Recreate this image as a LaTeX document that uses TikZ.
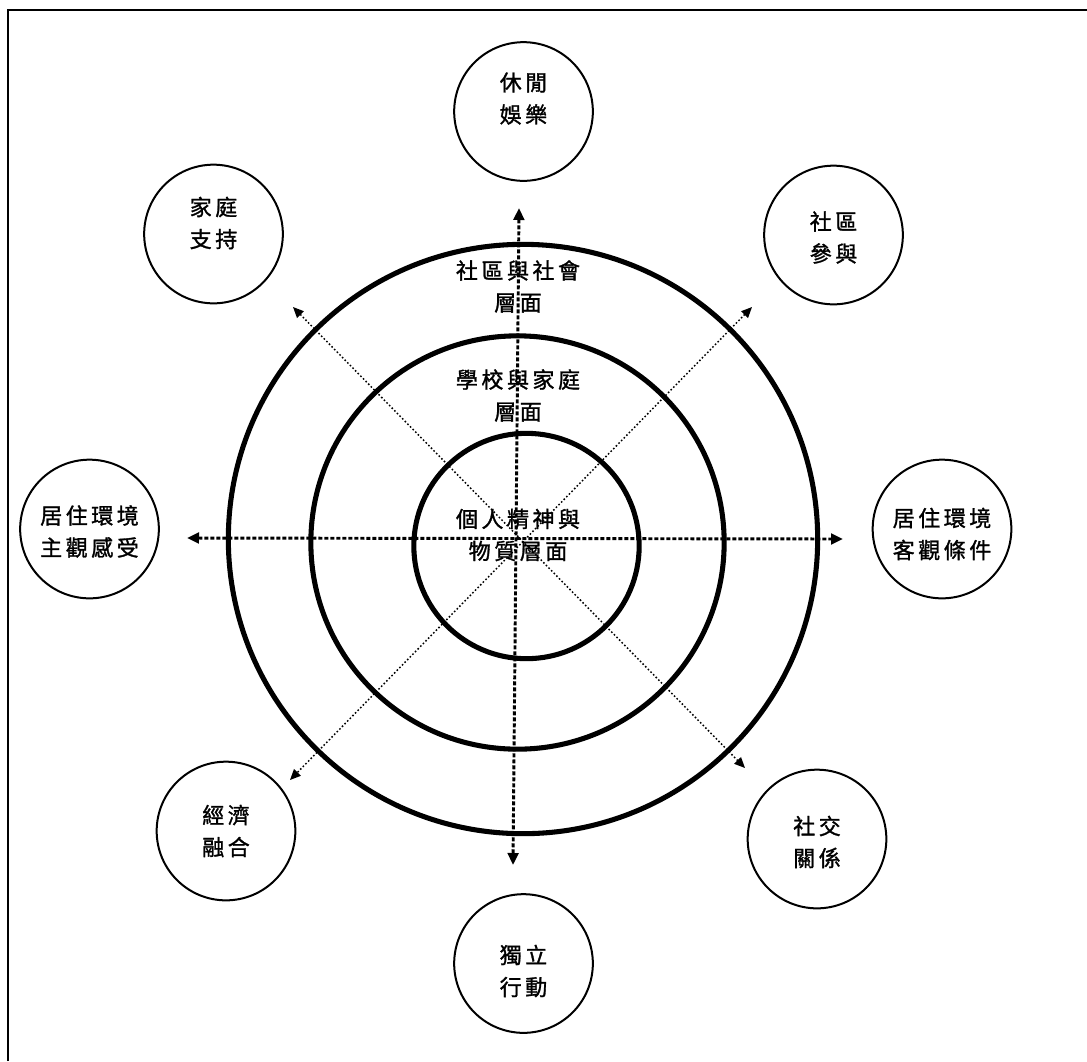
\documentclass[tikz,border=0pt]{standalone}
\usepackage{fontspec}
\newfontfamily\cjk[LetterSpace=16,FakeBold=1.3]{Noto Sans CJK TC}
\usetikzlibrary{arrows.meta}
\tikzset{bubble/.style={draw,circle,line width=1.5pt,minimum size=104pt,inner sep=0pt},
  ring/.style={draw,circle,line width=3.8pt,inner sep=0pt},
  txt/.style={align=center,font=\cjk\fontsize{16.5pt}{24pt}\selectfont,inner sep=0pt},
  axis/.style={{Triangle[length=9pt,width=8pt]}-{Triangle[length=9pt,width=8pt]},line width=2.2pt,dash pattern=on 3pt off 1.5pt},
  diag/.style={{Triangle[length=8pt,width=7pt]}-{Triangle[length=8pt,width=7pt]},line width=1.1pt,dash pattern=on 1.2pt off 1.6pt}}

\begin{document}
\begin{tikzpicture}[x=0.75pt,y=-0.75pt]
\useasboundingbox (0,0) rectangle (1087,1061);
% frame
\draw[line width=1.5pt] (8,1061)--(8,10)--(1087,10);
% rings
\node[ring,minimum size=442pt] (outer) at (523,539) {};
\node[ring,minimum size=310pt] (middle) at (517.5,542.5) {};
\node[ring,minimum size=169pt] (inner) at (526.5,546) {};
% axes
\coordinate (n) at (519,208); \coordinate (s) at (513,865);
\coordinate (w) at (187,538); \coordinate (e) at (843,539);
\coordinate (nw) at (293,307); \coordinate (se) at (745,768);
\coordinate (ne) at (752,307); \coordinate (sw) at (290,780);
\draw[axis] (n)--(s); \draw[axis] (w)--(e);
\draw[diag] (nw)--(se); \draw[diag] (ne)--(sw);
% ring labels
\node[txt] (lsoc) at (518,286.5) {社區與社會\\層面};
\node[txt] (lsch) at (518,395.5) {學校與家庭\\層面};
\node[txt] (lind) at (518,535) {個人精神與\\物質層面};
% domains
\node[bubble] (leisure) at (523.5,111.5) {};
\node[txt] at (523.5,98.5) {休閒\\娛樂};
\node[bubble] (commun) at (833.5,235) {};
\node[txt] at (833.5,237.5) {社區\\參與};
\node[bubble] (objenv) at (942,529) {};
\node[txt] at (942,534) {居住環境\\客觀條件};
\node[bubble] (social) at (817,839) {};
\node[txt] at (817,842) {社交\\關係};
\node[bubble] (mobil) at (523.5,963.5) {};
\node[txt] at (523.5,971) {獨立\\行動};
\node[bubble] (econ) at (226,831) {};
\node[txt] at (226,831) {經濟\\融合};
\node[bubble] (subenv) at (89.5,529) {};
\node[txt] at (89.5,531.5) {居住環境\\主觀感受};
\node[bubble] (family) at (213.5,234) {};
\node[txt] at (213.5,223) {家庭\\支持};
\end{tikzpicture}
\end{document}
